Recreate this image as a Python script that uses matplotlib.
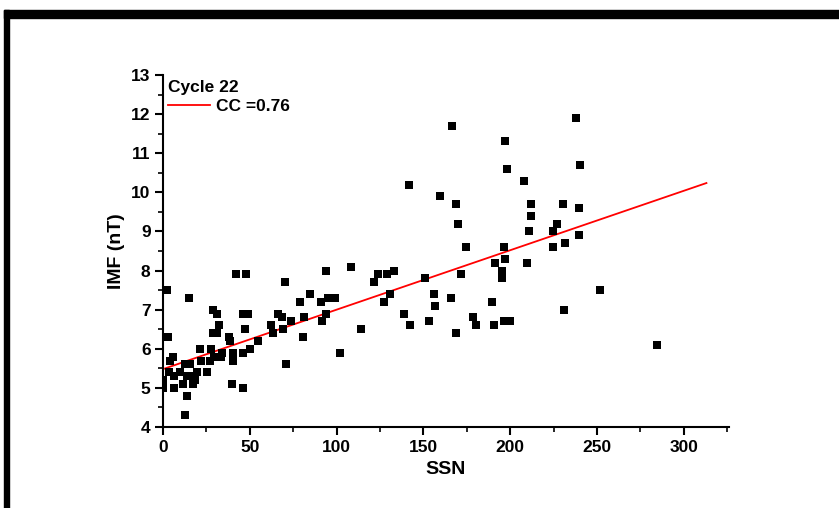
import matplotlib
matplotlib.use("Agg")
import matplotlib.pyplot as plt
from matplotlib.patches import Rectangle
from matplotlib.ticker import MultipleLocator

plt.rcParams["font.family"] = ["Liberation Sans", "DejaVu Sans"]
plt.rcParams["font.weight"] = "bold"

# monthly SSN vs IMF, solar cycle 22
ssn = [0.2, 0.2, 3.6, 6.3, 6.3, 10, 4, 5.6, 12.5, 15.6, 11.7, 17.5, 18.7, 14, 16,
       14, 12.5, 19.4, 25.2, 21.7, 27.1, 21.3, 27.5, 29.4, 33.2, 33.8, 40.6, 46,
       40.1, 50.3, 40, 46, 3, 29, 31, 38, 38.7, 47.5, 32.5, 29, 31, 46, 49, 2.5,
       15.2, 42, 48, 55,
       62, 63.5, 69, 66.5, 68.5, 70.4, 71, 74, 78.7, 81, 80.5, 84.8, 91, 95, 99,
       94, 94, 91.5, 102, 108, 114, 121.8, 124, 129, 133, 127.5, 131, 139, 142.3,
       141.9,
       150.8, 153, 156.2, 156.6, 159.3, 166, 166.6, 168.7, 168.9, 170, 171.6,
       174.8, 178.5, 180.2, 189.5, 190.8, 191.3, 195, 195, 196.6, 197.2, 196.8,
       197.9, 196.5, 200, 208.1, 209.8, 211, 212, 212.2, 224.5, 224.8, 227.2,
       230.4, 231.8, 230.8, 237.7, 239.7, 239.8, 240.4, 251.8, 284.3]
imf = [5.0, 5.2, 5.4, 5.0, 5.3, 5.4, 5.7, 5.8, 5.6, 5.6, 5.1, 5.1, 5.2, 5.3, 5.3,
       4.8, 4.3, 5.4, 5.4, 5.7, 5.7, 6.0, 6.0, 5.8, 5.8, 5.9, 5.9, 5.9,
       5.7, 6.0, 5.1, 5.0, 6.3, 6.4, 6.4, 6.3, 6.2, 6.5, 6.6, 7.0, 6.9, 6.9, 6.9, 7.5,
       7.3, 7.9, 7.9, 6.2,
       6.6, 6.4, 6.5, 6.9, 6.8, 7.7, 5.6, 6.7, 7.2, 6.8, 6.3, 7.4, 7.2, 7.3, 7.3,
       8.0, 6.9, 6.7, 5.9, 8.1, 6.5, 7.7, 7.9, 7.9, 8.0, 7.2, 7.4, 6.9, 6.6,
       10.2,
       7.8, 6.7, 7.4, 7.1, 9.9, 7.3, 11.7, 9.7, 6.4, 9.2, 7.9,
       8.6, 6.8, 6.6, 7.2, 6.6, 8.2, 8.0, 7.8, 8.6, 8.3, 11.3,
       10.6, 6.7, 6.7, 10.3, 8.2, 9.0, 9.4, 9.7, 8.6, 9.0, 9.2,
       9.7, 8.7, 7.0, 11.9, 9.6, 8.9, 10.7, 7.5, 6.1]

# linear fit as drawn
fit_intercept = 5.48
fit_slope = 0.0152
fit_x = [0, 313]

fig = plt.figure(figsize=(8.39, 5.08), dpi=100)
W, H = 839, 508
# black frame on top and left edge of the original figure
fig.patches.append(Rectangle((4 / W, 0), 5 / W, (H - 10) / H, transform=fig.transFigure,
                             color="black", zorder=0))
fig.patches.append(Rectangle((4 / W, (H - 18) / H), 1, 8 / H, transform=fig.transFigure,
                             color="black", zorder=0))

ax = fig.add_axes([163 / W, 81 / H, 566 / W, 352 / H])
ax.scatter(ssn, imf, marker="s", s=40, color="black", linewidths=0, zorder=3)
line, = ax.plot(fit_x, [fit_intercept + fit_slope * x for x in fit_x],
                color="red", lw=1.3, zorder=2)

ax.set_xlim(0, 326)
ax.set_ylim(4, 13)
ax.xaxis.set_major_locator(MultipleLocator(50))
ax.xaxis.set_minor_locator(MultipleLocator(25))
ax.yaxis.set_major_locator(MultipleLocator(1))
ax.yaxis.set_minor_locator(MultipleLocator(0.5))
for s in ["top", "right"]:
    ax.spines[s].set_visible(False)
for s in ["left", "bottom"]:
    ax.spines[s].set_linewidth(1.5)
ax.tick_params(which="major", direction="out", length=6, width=1.5, labelsize=12.5, pad=3)
ax.tick_params(which="minor", direction="out", length=3.5, width=1.2)
for lab in ax.get_xticklabels() + ax.get_yticklabels():
    lab.set_fontweight("bold")

ax.set_xlabel("SSN", fontsize=14, fontweight="bold", labelpad=5)
ax.set_ylabel("IMF (nT)", fontsize=14, fontweight="bold", labelpad=4)

leg = ax.legend([line], ["CC =0.76"], title="Cycle 22", loc="upper left",
                frameon=False, fontsize=12.5,
                title_fontproperties={"weight": "bold", "size": 12.5},
                handlelength=2.4, handletextpad=0.35, borderaxespad=0.1,
                alignment="left", borderpad=0.2, labelspacing=0.2)
for t in leg.get_texts():
    t.set_fontweight("bold")

fig.savefig("out.png", dpi=100)
